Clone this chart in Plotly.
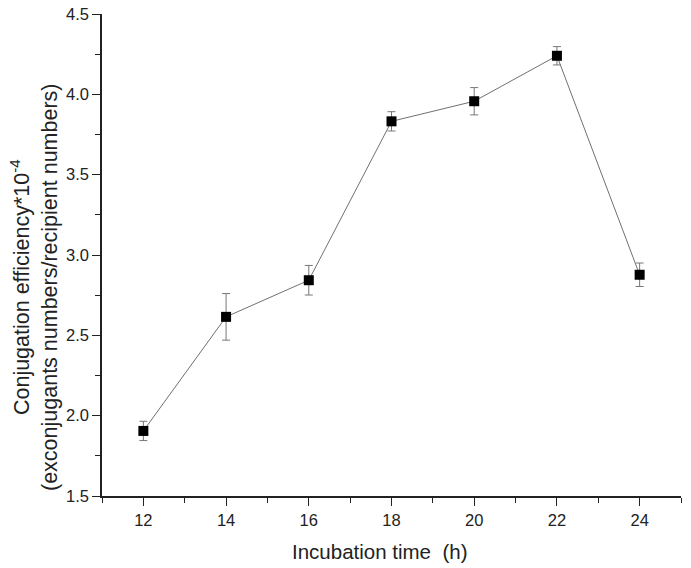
import plotly.graph_objects as go

time_h = [12, 14, 16, 18, 20, 22, 24]
efficiency = [1.905, 2.615, 2.843, 3.832, 3.957, 4.240, 2.877]
err = [0.060, 0.145, 0.092, 0.060, 0.085, 0.057, 0.073]
x_ticks = [12, 14, 16, 18, 20, 22, 24]
y_ticks = [1.5, 2.0, 2.5, 3.0, 3.5, 4.0, 4.5]

FONT = "Liberation Sans, Arial, sans-serif"

fig = go.Figure()
fig.add_trace(go.Scatter(
    x=time_h, y=efficiency,
    mode="lines+markers",
    line=dict(color="#707070", width=1),
    marker=dict(symbol="square", size=10, color="black"),
    error_y=dict(type="data", array=err, visible=True,
                 color="#777777", thickness=1, width=4),
    showlegend=False,
))

axis_common = dict(
    showline=True, linecolor="#222222", linewidth=1.5,
    ticks="outside", ticklen=8, tickwidth=1, tickcolor="#222222",
    showgrid=False, zeroline=False, mirror=False,
    tickfont=dict(family=FONT, size=16.5, color="#222222"),
    ticklabeloverflow="allow", automargin=False,
)

fig.update_xaxes(
    range=[11, 25], tickvals=x_ticks, ticktext=[str(v) for v in x_ticks],
    minor=dict(dtick=1, tick0=11, ticks="outside", ticklen=5, tickcolor="#222222"),
    **axis_common,
)
fig.update_yaxes(
    range=[1.5, 4.5], tickvals=y_ticks, ticktext=[f"{v:.1f}" for v in y_ticks],
    minor=dict(dtick=0.25, tick0=1.5, ticks="outside", ticklen=5, tickcolor="#222222"),
    **axis_common,
)

# plot area in figure pixels: left 94, width 579, top 6, height 482
fig.add_annotation(
    text="Conjugation efficiency*10<sup>-4</sup><br>(exconjugants numbers/recipient numbers)",
    xref="paper", yref="paper", x=(26 - 94) / 579, y=(488 - 279) / 482,
    xanchor="center", yanchor="middle", textangle=-90, showarrow=False,
    font=dict(family=FONT, size=21.5, color="#222222"),
)
fig.add_annotation(
    text="Incubation time\u00a0\u00a0(h)",
    xref="paper", yref="paper", x=(371 - 94) / 579, y=-(543 - 488) / 482,
    xanchor="center", yanchor="middle", showarrow=False,
    font=dict(family=FONT, size=20.5, color="#222222"),
)

fig.update_layout(
    width=683, height=560,
    margin=dict(l=94, r=10, t=6, b=72, autoexpand=False),
    plot_bgcolor="white", paper_bgcolor="white",
)

fig.write_html("out.html")
